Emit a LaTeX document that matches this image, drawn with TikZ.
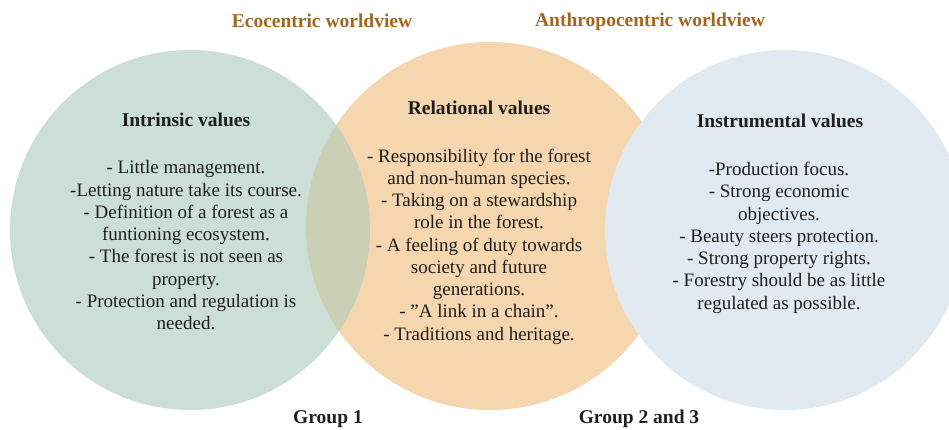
\documentclass[tikz,border=0pt]{standalone}
\usepackage{fontspec}
\setmainfont{Liberation Serif}
\begin{document}
\definecolor{sage}{HTML}{CBDFD6}
\definecolor{peach}{HTML}{F6D6AE}
\definecolor{mist}{HTML}{E1EAF0}
\definecolor{blend}{HTML}{C9D0B6}
\definecolor{umber}{HTML}{A2661F}
\definecolor{ink}{HTML}{1E1E1E}
\begin{tikzpicture}[x=1pt,y=-1pt,
  heading/.style={font=\fontsize{19.5}{22}\selectfont\bfseries, text=umber, anchor=base, inner sep=0pt},
  valuetitle/.style={font=\fontsize{19.5}{22}\selectfont\bfseries, text=ink, anchor=base, inner sep=0pt},
  valuelist/.style={font=\fontsize{19}{22.25}\selectfont, text=ink, align=center, anchor=base, inner sep=0pt},
  grouplabel/.style={font=\fontsize{19.5}{22}\selectfont\bfseries, text=ink, anchor=base, inner sep=0pt}]
\useasboundingbox (0,0) rectangle (949,430);
\fill[white] (0,0) rectangle (949,430);

% the three value circles
\fill[sage]  (190,230) circle[radius=180];
\fill[peach] (490,226) circle[radius=184];
\begin{scope}
  \clip (190,230) circle[radius=180];
  \fill[blend] (490,226) circle[radius=184];
\end{scope}
\fill[mist]  (785,230) circle[radius=180];

% worldview headings
\node[heading] (eco) at (322,28) {Ecocentric worldview};
\node[heading] (anthro) at (650,27) {Anthropocentric worldview};

% intrinsic values (list nodes sit on the baseline of their last line)
\node[valuetitle] (intr) at (186,127) {Intrinsic values};
\node[valuelist] (intrlist) at (186,329.5) {- Little management.\\
-Letting nature take its course.\\
- Definition of a forest as a\\
funtioning ecosystem.\\
- The forest is not seen as\\
property.\\
- Protection and regulation is\\
needed.};

% relational values
\node[valuetitle] (rel) at (479,115) {Relational values};
\node[valuelist] (rellist) at (479,340) {- Responsibility for the forest\\
and non-human species.\\
- Taking on a stewardship\\
role in the forest.\\
- A feeling of duty towards\\
society and future\\
generations.\\
- ”A link in a chain”.\\
- Traditions and heritage.};

% instrumental values
\node[valuetitle] (inst) at (780,128) {Instrumental values};
\node[valuelist] (instlist) at (779,309) {-Production focus.\\
- Strong economic\\
objectives.\\
- Beauty steers protection.\\
- Strong property rights.\\
- Forestry should be as little\\
regulated as possible.};

% group labels
\node[grouplabel] (g1) at (328,423) {Group 1};
\node[grouplabel] (g23) at (639,423) {Group 2 and 3};
\end{tikzpicture}
\end{document}
